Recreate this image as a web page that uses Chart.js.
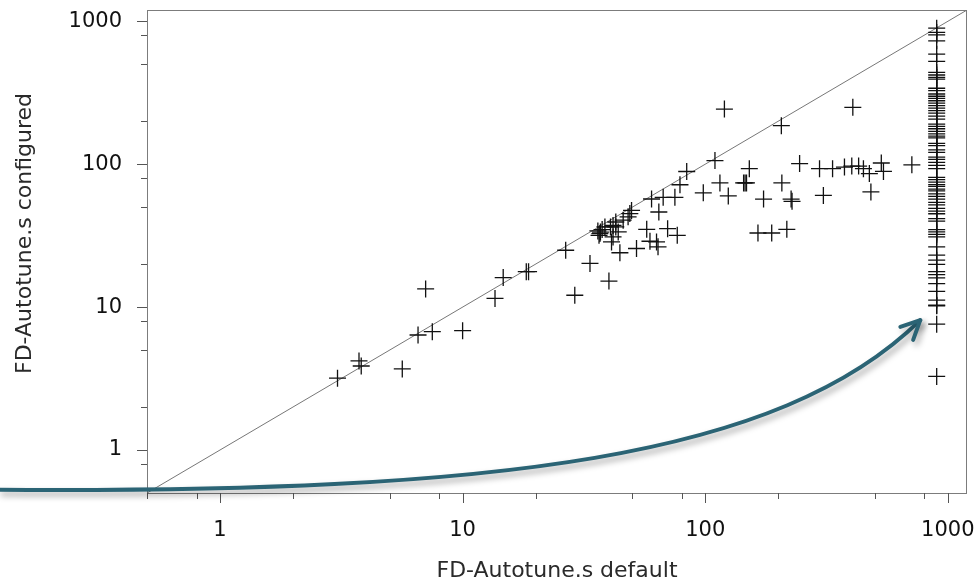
<!DOCTYPE html>
<html>
<head>
<meta charset="utf-8">
<script src="https://cdn.jsdelivr.net/npm/chart.js@4"></script>
<style>
  html, body { margin: 0; padding: 0; background: #fff; }
  #c { display: block; }
</style>
</head>
<body>
<canvas id="c" width="980" height="578"></canvas>
<script>
// ---- data ----
const scatterDefault = [3.05, 3.74, 3.82, 5.64, 7.04, 6.55, 7.5, 10.0, 13.6, 14.7, 18.3, 18.7,
  26.6, 29.0, 33.5, 40.1, 36.1, 36.8, 36.5, 37.0, 37.6, 38.6, 40.7, 41.7, 42.8, 42.8, 45.9,
  48.1, 48.9, 49.7, 43.8, 41.7, 41.1, 44.5, 52.1, 57.4, 59.2, 63.0, 63.9, 60.1, 64.4, 67.1,
  70.0, 75.0, 76.7, 78.7, 83.9, 98.2, 109.7, 120, 115, 124.5, 144, 146, 148, 152, 174, 206,
  207, 226, 228, 165, 188, 217, 245, 296, 307, 335, 375, 406, 402, 429, 449, 475, 482, 532,
  543, 711];
const scatterConfigured = [3.18, 4.2, 3.87, 3.69, 13.4, 6.38, 6.73, 6.84, 11.5, 16.1, 17.7, 17.7,
  25.0, 12.1, 20.2, 15.2, 34.1, 32.7, 31.8, 33.5, 34.9, 36.4, 36.4, 37.3, 36.4, 39.4, 40.6,
  42.8, 45.1, 47.5, 33.6, 31.0, 28.6, 24.0, 25.7, 35.0, 28.9, 28.6, 26.4, 57.1, 46.3, 58.6,
  35.4, 58.6, 31.8, 71.8, 88.9, 63.1, 106, 243, 74, 60, 74, 74, 74, 93, 57, 186,
  74, 57, 55, 33, 33, 35, 101, 93, 60.5, 93, 95.5, 250, 97, 97, 93, 86, 64, 102,
  89, 99];
const TIMEOUT_DEFAULT = 900;
const timeoutConfigured = [895, 836, 804, 730, 589, 524, 439, 421, 405, 394, 340, 327, 310, 299,
  289, 278, 268, 257, 247, 237, 228, 217, 207, 191, 184, 177, 170, 163, 157, 153, 140, 135,
  126, 121, 112, 108, 103, 98, 93, 81, 78, 75, 72, 70, 67, 65, 62, 59.5, 57, 54, 52, 49, 47,
  45, 41.6, 40, 34.8, 33.6, 32.3, 31, 26.4, 23.1, 21.3, 19.9, 17.7, 16.9, 16, 14.6, 12.9,
  11.2, 10.3, 10.2, 7.6, 3.27];
const AXIS_MIN = 0.5, AXIS_MAX = 1200;
const xTickValues = [0.5, 0.8, 1, 2, 5, 8, 10, 20, 50, 80, 100, 200, 500, 800, 1000];
const yTickValues = [0.8, 1, 2, 5, 8, 10, 20, 50, 80, 100, 200, 500, 800, 1000];
const majorTicks = [1, 10, 100, 1000];
const xTitle = 'FD-Autotune.s default';
const yTitle = 'FD-Autotune.s configured';
// annotation arrow, in data coordinates (start, control 1, control 2, tip)
const arrowPath = [[0.123, 0.526], [14.2, 0.50], [203, 0.88], [770, 8.1]];

// ---- build ----
const points = scatterDefault.map((x, i) => ({ x, y: scatterConfigured[i] }))
  .concat(timeoutConfigured.map(y => ({ x: TIMEOUT_DEFAULT, y })));

const tickFont = { family: 'DejaVu Sans', size: 21 };
const TITLE_FONT = '22px "DejaVu Sans"';

function setTicks(values) {
  return function (scale) {
    scale.ticks = values.map(v => ({ value: v, major: majorTicks.includes(v) }));
  };
}
const labelCb = v => (majorTicks.includes(v) ? String(v) : '');
function noOverflow(s) {
  s.paddingTop = 0; s.paddingBottom = 0; s.paddingLeft = 0; s.paddingRight = 0;
}

const framePlugin = {
  id: 'frame',
  beforeDatasetsDraw(chart) {
    const { ctx, chartArea: a } = chart;
    ctx.save();
    ctx.strokeStyle = '#7c7c7c';
    ctx.lineWidth = 1;
    ctx.strokeRect(a.left + 0.5, a.top + 0.5, a.right - a.left - 1, a.bottom - a.top);
    ctx.strokeStyle = '#555';
    const xs = chart.scales.x, ys = chart.scales.y;
    xs.ticks.forEach(t => {
      const px = Math.round(xs.getPixelForValue(t.value)) + 0.5;
      const len = t.major ? 10 : 6;
      ctx.beginPath(); ctx.moveTo(px, a.bottom); ctx.lineTo(px, a.bottom + len); ctx.stroke();
    });
    ys.ticks.forEach(t => {
      const py = Math.round(ys.getPixelForValue(t.value)) + 0.5;
      const len = t.major ? 10 : 6;
      ctx.beginPath(); ctx.moveTo(a.left, py); ctx.lineTo(a.left - len, py); ctx.stroke();
    });
    // axis titles
    ctx.fillStyle = '#2a2a2a';
    ctx.font = TITLE_FONT;
    ctx.textAlign = 'center';
    ctx.textBaseline = 'alphabetic';
    ctx.fillText(xTitle, (a.left + a.right) / 2, chart.height - 1);
    ctx.translate(31, (a.top + a.bottom) / 2 - 18);
    ctx.rotate(-Math.PI / 2);
    ctx.fillText(yTitle, 0, 0);
    ctx.restore();
  },
  afterDraw(chart) {
    const { ctx } = chart;
    const xs = chart.scales.x, ys = chart.scales.y;
    const p = arrowPath.map(([x, y]) => [xs.getPixelForValue(x), ys.getPixelForValue(y)]);
    ctx.save();
    ctx.strokeStyle = '#2b6475';
    ctx.lineWidth = 4;
    ctx.lineCap = 'round';
    ctx.lineJoin = 'round';
    ctx.shadowColor = 'rgba(0,0,0,0.35)';
    ctx.shadowBlur = 6;
    ctx.shadowOffsetX = 3;
    ctx.shadowOffsetY = 4;
    ctx.beginPath();
    ctx.moveTo(p[0][0], p[0][1]);
    ctx.bezierCurveTo(p[1][0], p[1][1], p[2][0], p[2][1], p[3][0], p[3][1]);
    ctx.stroke();
    const ang = Math.atan2(p[2][1] - p[3][1], p[2][0] - p[3][0]);
    const L = 21, spread = 0.45;
    ctx.beginPath();
    ctx.moveTo(p[3][0] + L * Math.cos(ang - spread), p[3][1] + L * Math.sin(ang - spread));
    ctx.lineTo(p[3][0], p[3][1]);
    ctx.lineTo(p[3][0] + L * Math.cos(ang + spread), p[3][1] + L * Math.sin(ang + spread));
    ctx.stroke();
    ctx.restore();
  }
};

new Chart(document.getElementById('c'), {
  data: {
    datasets: [
      {
        type: 'line',
        data: [{ x: AXIS_MIN, y: AXIS_MIN }, { x: AXIS_MAX, y: AXIS_MAX }],
        borderColor: '#777',
        borderWidth: 1,
        pointRadius: 0,
        fill: false,
        order: 2
      },
      {
        type: 'scatter',
        data: points,
        pointStyle: 'cross',
        pointRadius: 8.5,
        borderColor: '#111',
        backgroundColor: '#111',
        borderWidth: 1.3,
        order: 1
      }
    ]
  },
  options: {
    responsive: false,
    animation: false,
    devicePixelRatio: 1,
    layout: { autoPadding: false, padding: { left: 0, top: 10, right: 13, bottom: 0 } },
    plugins: { legend: { display: false }, tooltip: { enabled: false } },
    scales: {
      x: {
        type: 'logarithmic',
        min: AXIS_MIN, max: AXIS_MAX,
        afterBuildTicks: setTicks(xTickValues),
        afterFit: s => { s.height = 85; noOverflow(s); },
        grid: { display: false, drawTicks: false },
        border: { display: false },
        ticks: { autoSkip: false, maxRotation: 0, padding: 25, color: '#111', font: tickFont, callback: labelCb },
        title: { display: false }
      },
      y: {
        type: 'logarithmic',
        min: AXIS_MIN, max: AXIS_MAX,
        afterBuildTicks: setTicks(yTickValues),
        afterFit: s => { s.width = 147; noOverflow(s); },
        grid: { display: false, drawTicks: false },
        border: { display: false },
        ticks: { autoSkip: false, padding: 25, color: '#111', font: tickFont, callback: labelCb },
        title: { display: false }
      }
    }
  },
  plugins: [framePlugin]
});
</script>
</body>
</html>
